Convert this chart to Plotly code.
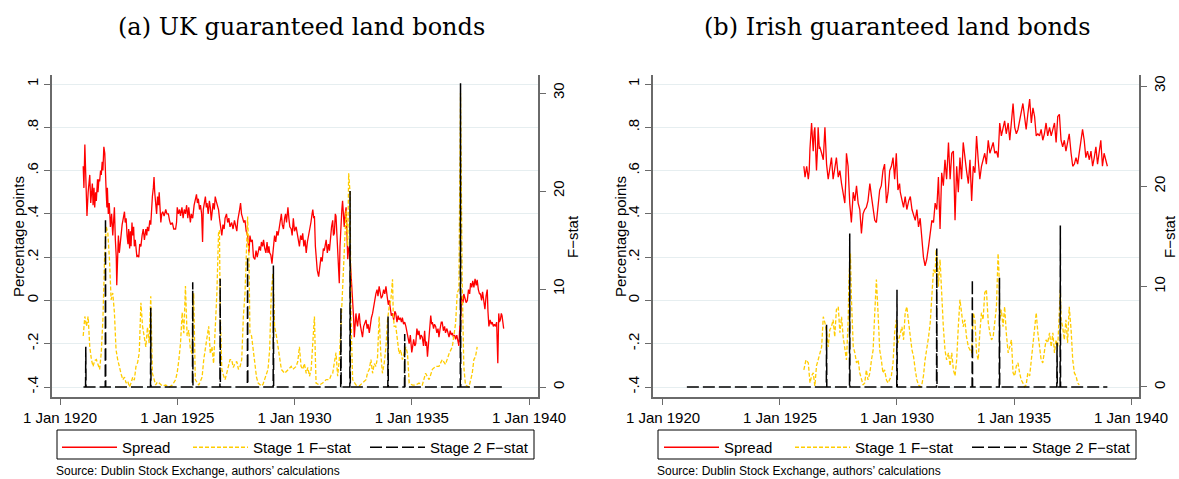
import plotly.graph_objects as go

# ---------------- data: panel (a) UK guaranteed land bonds ----------------
uk_spread_year = [1920.99,1921.02,1921.06,1921.10,1921.15,1921.20,1921.27,1921.31,1921.34,1921.38,1921.41,1921.45,1921.48,1921.52,1921.55,1921.60,1921.62,1921.66,1921.69,1921.73,1921.76,1921.80,1921.83,1921.87,1921.91,1921.94,1921.97,1922.00,1922.02,1922.06,1922.10,1922.15,1922.20,1922.25,1922.29,1922.32,1922.36,1922.40,1922.42,1922.46,1922.49,1922.53,1922.56,1922.60,1922.65,1922.70,1922.75,1922.78,1922.82,1922.86,1922.90,1922.93,1922.97,1923.00,1923.03,1923.07,1923.10,1923.14,1923.17,1923.21,1923.24,1923.28,1923.31,1923.36,1923.40,1923.45,1923.50,1923.55,1923.60,1923.66,1923.70,1923.73,1923.78,1923.83,1923.87,1923.90,1923.94,1923.98,1924.01,1924.04,1924.08,1924.12,1924.16,1924.20,1924.23,1924.27,1924.30,1924.34,1924.38,1924.44,1924.51,1924.56,1924.62,1924.67,1924.72,1924.79,1924.85,1924.93,1924.97,1925.00,1925.05,1925.10,1925.14,1925.20,1925.25,1925.30,1925.35,1925.40,1925.45,1925.49,1925.53,1925.56,1925.60,1925.66,1925.72,1925.77,1925.82,1925.86,1925.90,1925.95,1925.99,1926.04,1926.08,1926.11,1926.15,1926.20,1926.24,1926.27,1926.32,1926.37,1926.41,1926.45,1926.48,1926.53,1926.58,1926.62,1926.66,1926.70,1926.76,1926.80,1926.85,1926.90,1926.95,1927.00,1927.04,1927.10,1927.15,1927.20,1927.25,1927.32,1927.38,1927.44,1927.50,1927.54,1927.58,1927.61,1927.66,1927.70,1927.74,1927.79,1927.84,1927.89,1927.94,1928.00,1928.06,1928.10,1928.15,1928.20,1928.25,1928.31,1928.36,1928.41,1928.45,1928.50,1928.55,1928.59,1928.64,1928.68,1928.73,1928.78,1928.83,1928.87,1928.91,1928.94,1928.99,1929.04,1929.08,1929.12,1929.15,1929.20,1929.25,1929.30,1929.35,1929.40,1929.44,1929.48,1929.53,1929.58,1929.62,1929.66,1929.72,1929.76,1929.80,1929.86,1929.90,1929.95,
1930.00,1930.07,1930.12,1930.17,1930.21,1930.26,1930.31,1930.35,1930.40,1930.45,1930.50,1930.55,1930.60,1930.64,1930.70,1930.75,1930.78,1930.82,1930.85,1930.89,1930.92,1930.97,1931.03,1931.08,1931.13,1931.18,1931.23,1931.27,1931.31,1931.35,1931.40,1931.45,1931.49,1931.54,1931.58,1931.63,1931.66,1931.70,1931.74,1931.77,1931.81,1931.84,1931.88,1931.91,1931.94,1931.98,1932.02,1932.05,1932.09,1932.12,1932.16,1932.20,1932.24,1932.27,1932.31,1932.34,1932.38,1932.41,1932.45,1932.48,1932.52,1932.55,1932.59,1932.62,1932.66,1932.69,1932.73,1932.76,1932.80,1932.85,1932.90,1932.95,1933.00,1933.05,1933.10,1933.14,1933.19,1933.24,1933.28,1933.33,1933.38,1933.42,1933.47,1933.52,1933.56,1933.61,1933.66,1933.70,1933.75,1933.80,1933.85,1933.90,1933.95,1934.00,1934.04,1934.08,1934.13,1934.18,1934.23,1934.28,1934.32,1934.37,1934.42,1934.46,1934.51,1934.56,1934.60,1934.65,1934.70,1934.75,1934.80,1934.85,1934.89,1934.94,1935.00,1935.03,1935.08,1935.13,1935.17,1935.22,1935.27,1935.31,1935.36,1935.40,1935.45,1935.50,1935.55,1935.59,1935.63,1935.67,1935.72,1935.77,1935.81,1935.85,1935.88,1935.93,1935.97,1936.02,1936.07,1936.12,1936.16,1936.21,1936.26,1936.30,1936.35,1936.40,1936.44,1936.50,1936.55,1936.59,1936.64,1936.69,1936.73,1936.78,1936.83,1936.87,1936.92,1936.97,1937.01,1937.05,1937.08,1937.11,1937.15,1937.19,1937.22,1937.27,1937.32,1937.37,1937.42,1937.47,1937.51,1937.56,1937.60,1937.65,1937.70,1937.75,1937.79,1937.84,1937.89,1937.93,1937.98,1938.02,1938.07,1938.12,1938.17,1938.22,1938.25,1938.29,1938.34,1938.39,1938.43,1938.48,1938.52,1938.57,1938.62,1938.67,1938.71,1938.74,1938.78,1938.82,1938.85,1938.89,1938.92]
uk_spread = [.62,.52,.72,.60,.39,.50,.58,.45,.50,.54,.44,.52,.43,.50,.46,.56,.50,.56,.55,.60,.58,.64,.60,.71,.68,.62,.50,.43,.52,.40,.45,.34,.40,.30,.38,.43,.28,.20,.07,.26,.30,.22,.26,.32,.35,.38,.41,.36,.38,.30,.26,.33,.24,.32,.25,.36,.30,.34,.25,.28,.22,.20,.21,.20,.26,.25,.30,.33,.28,.33,.30,.34,.32,.37,.35,.42,.48,.52,.57,.50,.45,.40,.48,.44,.50,.42,.36,.40,.41,.39,.42,.40,.40,.37,.35,.36,.33,.33,.36,.43,.40,.42,.39,.43,.38,.42,.40,.44,.38,.43,.40,.36,.40,.38,.44,.46,.49,.45,.47,.42,.44,.40,.27,.42,.46,.48,.43,.45,.40,.46,.43,.37,.40,.45,.42,.48,.46,.44,.42,.38,.34,.30,.35,.33,.38,.40,.36,.38,.34,.36,.33,.37,.34,.32,.37,.40,.42,.45,.40,.38,.36,.37,.32,.30,.22,.30,.27,.28,.20,.19,.23,.20,.22,.25,.23,.27,.25,.28,.24,.22,.27,.22,.25,.22,.21,.17,.22,.27,.30,.27,.32,.30,.34,.38,.40,.35,.33,.38,.40,.36,.43,.38,.34,.33,.30,.38,
.32,.34,.30,.27,.25,.30,.28,.31,.25,.28,.22,.27,.30,.31,.36,.40,.42,.38,.39,.25,.19,.14,.11,.16,.20,.18,.24,.23,.27,.28,.22,.26,.23,.30,.34,.37,.30,.31,.40,.39,.30,.25,.20,.08,.25,.37,.42,.46,.38,.34,.40,.43,.30,.19,.24,.25,.18,.13,.05,.0,-.08,-.17,-.10,-.06,-.10,-.12,-.08,-.06,-.11,-.14,-.17,-.12,-.10,-.09,-.13,-.11,-.15,-.10,-.08,-.06,-.02,.01,.03,.05,.02,.065,.04,.01,.02,.05,.03,.065,.02,-.02,.0,-.04,-.07,-.06,-.09,-.05,-.06,-.10,-.07,-.09,-.08,-.10,-.08,-.11,-.10,-.12,-.15,-.17,-.20,-.16,-.24,-.22,-.18,-.21,-.20,-.13,-.16,-.14,-.18,-.16,-.17,-.21,-.14,-.21,-.19,-.26,-.18,-.12,-.07,-.11,-.10,-.13,-.11,-.12,-.15,-.13,-.17,-.13,-.10,-.10,-.14,-.12,-.15,-.13,-.16,-.17,-.14,-.16,-.15,-.17,-.16,-.18,-.16,-.20,-.21,-.12,-.12,.00,.02,-.01,.03,.01,-.01,.00,.05,.03,.08,.06,.09,.06,.10,.07,.095,.05,.03,.03,.00,.04,-.01,-.04,.02,.05,-.05,-.12,-.09,-.11,-.10,-.12,-.11,-.12,-.10,-.29,-.06,-.10,-.09,-.06,-.07,-.12,-.13]

uk_stage1_year = [1920.99,1921.06,1921.13,1921.20,1921.27,1921.34,1921.41,1921.48,1921.55,1921.62,1921.69,1921.76,1921.83,1921.90,1921.94,1921.97,1922.04,1922.11,1922.18,1922.25,1922.32,1922.39,1922.46,1922.54,1922.61,1922.68,1922.75,1922.82,1922.89,1922.96,1923.03,1923.10,1923.17,1923.24,1923.31,1923.38,1923.45,1923.52,1923.59,1923.66,1923.73,1923.80,1923.87,1923.92,1923.94,1924.01,1924.08,1924.15,1924.23,1924.37,1924.51,1924.65,1924.79,1924.93,1925.00,1925.07,1925.14,1925.21,1925.28,1925.35,1925.42,1925.49,1925.56,1925.63,1925.70,1925.77,1925.85,1925.92,1925.99,1926.06,1926.13,1926.20,1926.27,1926.34,1926.41,1926.48,1926.55,1926.62,1926.69,1926.76,1926.80,1926.83,1926.90,1926.97,1927.04,1927.11,1927.18,1927.25,1927.32,1927.39,1927.46,1927.54,1927.61,1927.68,1927.75,1927.82,1927.89,1927.96,1928.00,1928.06,1928.10,1928.17,1928.24,1928.31,1928.38,1928.45,1928.59,1928.66,1928.73,1928.80,1928.87,1928.94,1929.01,1929.08,1929.15,1929.23,1929.30,1929.37,1929.44,1929.58,1929.72,1929.86,1929.93,1930.07,1930.14,1930.21,1930.28,1930.35,1930.42,1930.50,1930.57,1930.64,1930.71,1930.78,1930.85,1930.89,1930.92,1931.06,1931.20,1931.35,1931.49,1931.56,1931.63,1931.70,1931.77,1931.84,1931.91,1931.98,1932.05,1932.12,1932.20,1932.27,1932.31,1932.37,1932.41,1932.48,1932.62,1932.76,1932.90,1933.05,1933.12,1933.19,1933.26,1933.33,1933.40,1933.47,1933.54,1933.61,1933.68,1933.75,1933.83,1933.90,1933.97,1934.04,1934.11,1934.18,1934.21,1934.25,1934.32,1934.39,1934.46,1934.53,1934.60,1934.67,1934.75,1934.82,1934.89,1935.03,1935.17,1935.31,1935.45,1935.59,1935.74,1935.88,1936.02,1936.16,1936.30,1936.44,1936.59,1936.73,1936.87,1936.94,1937.01,1937.08,1937.15,1937.22,1937.29,1937.44,1937.58,1937.65,1937.72,1937.79]
uk_stage1 = [5.2,7.2,6.2,7.2,4.1,2.8,2.1,2.7,2.8,2.2,1.8,3.5,6.9,13,15,16.4,15.7,13,8.9,9.6,7.6,3.8,2.8,1.8,1.3,0.75,1.0,0.4,0.6,0.0,0.4,1.0,0.7,2.1,2.5,3.5,8.6,6.2,5.2,4.1,6.1,4.5,9.25,4.0,1.4,0.8,0.2,0.5,0.4,0.1,0.2,0.0,0.2,0.75,1.5,2.8,4.5,7.6,5.5,10.3,5.2,5.8,3.8,3.4,9.6,0.75,0.4,0.2,0.6,1.0,2.8,4.1,5.5,6.2,3.4,4.1,2.4,6.2,9.6,15.7,16.0,7.8,1.8,1.2,0.75,1.4,2.1,2.8,2.8,2.0,2.4,2.6,1.8,2.1,2.8,7.2,9.6,14,17.4,13,5.5,5.2,3.8,1.8,1.0,0.4,0.1,0.3,0.75,1.2,1.8,3.8,9.6,11.6,6.2,5.2,4.1,2.5,1.8,1.4,1.8,2.1,1.8,2.1,2.6,4.1,2.1,1.8,2.4,1.4,2.0,1.1,1.8,4.8,7.2,3.0,0.4,0.2,0.4,0.75,0.75,1.2,1.4,2.5,3.5,1.1,2.8,6.2,9.6,13,18,14.4,21.8,19.8,6.9,0.75,0.2,0.1,0.4,0.75,1.5,1.8,2.8,1.4,2.4,2.1,3.0,7.2,3.4,1.4,2.5,4.1,6.9,8.2,8.9,11.0,7.6,6.2,6.2,4.5,3.4,3.8,2.8,3.4,4.1,3.4,0.4,0.2,0.2,0.4,0.2,1.4,0.75,1.8,2.1,2.1,2.8,2.3,3.4,4.1,6.5,9.6,10,30,11,2.1,0.2,0.0,1.4,2.8,3.1,4.1]

uk_stage2_year = [1921.00,1921.09,1921.10,1921.11,1921.93,1921.94,1921.95,1923.86,1923.87,1923.88,1925.65,1925.66,1925.67,1926.82,1926.83,1926.84,1927.99,1928.00,1928.01,1929.09,1929.10,1929.11,1931.97,1931.98,1931.99,1932.36,1932.37,1932.38,1933.98,1933.99,1934.00,1934.69,1934.70,1934.71,1937.07,1937.08,1937.09,1938.92]
uk_stage2 = [0,0,4.1,0,0,17.2,0,0,8.1,0,0,10.7,0,0,11.05,0,0,13.3,0,0,12.4,0,0,8.1,0,0,20.0,0,0,7.2,0,0,5.4,0,0,31.0,0,0]

# ---------------- data: panel (b) Irish guaranteed land bonds ----------------
ir_spread_year = [1926.02,1926.07,1926.14,1926.21,1926.25,1926.28,1926.35,1926.39,1926.42,1926.46,1926.49,1926.53,1926.56,1926.61,1926.63,1926.68,1926.70,1926.78,1926.85,1926.92,1926.96,1926.99,1927.06,1927.13,1927.20,1927.27,1927.34,1927.41,1927.49,1927.56,1927.63,1927.70,1927.77,1927.81,1927.84,1927.91,1927.98,1928.05,1928.13,1928.20,1928.27,1928.34,1928.41,1928.48,1928.55,1928.62,1928.69,1928.76,1928.84,1928.91,1928.98,1929.05,1929.12,1929.19,1929.26,1929.33,1929.40,1929.47,1929.55,1929.62,1929.69,1929.76,1929.83,1929.90,1929.97,
1930.04,1930.11,1930.14,1930.21,1930.28,1930.35,1930.42,1930.50,1930.57,1930.64,1930.71,1930.78,1930.85,1930.92,1930.99,1931.06,1931.13,1931.20,1931.27,1931.35,1931.42,1931.49,1931.56,1931.63,1931.70,1931.77,1931.84,1931.91,1931.98,1932.05,1932.12,1932.20,1932.27,1932.34,1932.41,1932.48,1932.55,1932.62,1932.69,1932.76,1932.83,1932.90,1932.97,1933.05,1933.12,1933.19,1933.26,1933.33,1933.40,1933.47,1933.54,1933.61,1933.68,1933.75,1933.82,1933.90,1933.97,1934.04,1934.11,1934.18,1934.25,1934.32,1934.39,1934.46,1934.53,1934.60,1934.67,1934.75,1934.82,1934.89,1934.96,1935.03,1935.10,1935.17,1935.24,1935.31,1935.38,1935.45,1935.52,1935.59,1935.67,1935.74,1935.81,1935.88,1935.95,1936.02,1936.09,1936.16,1936.23,1936.30,1936.37,1936.44,1936.52,1936.59,1936.66,1936.73,1936.80,1936.87,1936.94,1937.01,1937.08,1937.15,1937.22,1937.29,1937.36,1937.44,1937.51,1937.58,1937.65,1937.72,1937.79,1937.86,1937.93,1938.00,1938.07,1938.14,1938.22,1938.29,1938.36,1938.43,1938.50,1938.57,1938.64,1938.71,1938.78,1938.85,1938.92,1938.99]
ir_spread = [.62,.57,.62,.56,.60,.70,.82,.72,.69,.78,.80,.68,.60,.72,.80,.70,.71,.68,.65,.80,.72,.63,.56,.62,.66,.56,.62,.66,.57,.60,.54,.50,.45,.55,.68,.62,.45,.36,.50,.46,.53,.45,.42,.31,.40,.42,.43,.46,.54,.48,.42,.37,.36,.43,.51,.53,.60,.63,.45,.50,.60,.62,.66,.56,.68,
.51,.54,.50,.46,.43,.48,.42,.46,.48,.42,.39,.37,.42,.34,.38,.30,.20,.16,.19,.25,.30,.37,.36,.45,.42,.57,.33,.59,.53,.65,.56,.73,.56,.68,.69,.37,.62,.50,.66,.56,.73,.65,.60,.54,.65,.46,.62,.59,.76,.65,.56,.62,.65,.68,.63,.74,.68,.71,.73,.68,.69,.66,.82,.76,.80,.83,.77,.82,.74,.83,.91,.80,.77,.79,.83,.86,.91,.85,.79,.86,.93,.82,.89,.85,.76,.77,.76,.79,.74,.77,.82,.76,.80,.76,.79,.82,.73,.85,.86,.74,.71,.74,.69,.74,.77,.68,.62,.63,.66,.63,.69,.73,.79,.74,.66,.69,.65,.69,.62,.66,.71,.63,.68,.74,.62,.68,.65,.62]

ir_stage1_year = [1926.02,1926.11,1926.21,1926.28,1926.35,1926.42,1926.49,1926.56,1926.63,1926.70,1926.78,1926.85,1926.92,1926.99,1927.06,1927.13,1927.20,1927.27,1927.34,1927.41,1927.49,1927.56,1927.63,1927.70,1927.77,1927.84,1927.91,1927.95,1928.01,1928.05,1928.13,1928.20,1928.27,1928.34,1928.41,1928.48,1928.55,1928.62,1928.69,1928.76,1928.84,1928.91,1928.98,1929.05,1929.12,1929.19,1929.26,1929.33,1929.40,1929.47,1929.55,1929.62,1929.69,1929.76,1929.83,1929.90,1929.97,1930.04,1930.11,1930.14,1930.21,1930.28,1930.35,1930.42,1930.50,1930.57,1930.64,1930.71,1930.78,1930.85,1930.92,1930.99,1931.06,1931.13,1931.20,1931.27,1931.35,1931.42,1931.49,1931.56,1931.63,1931.67,1931.73,1931.77,1931.84,1931.91,1931.98,1932.05,1932.12,1932.20,1932.27,1932.34,1932.41,1932.48,1932.55,1932.62,1932.69,1932.76,1932.83,1932.90,1932.97,1933.05,1933.12,1933.19,1933.26,1933.33,1933.40,1933.47,1933.54,1933.61,1933.68,1933.75,1933.82,1933.90,1933.97,1934.04,1934.11,1934.18,1934.25,1934.32,1934.36,1934.39,1934.46,1934.53,1934.60,1934.67,1934.75,1934.82,1934.89,1934.96,1935.03,1935.10,1935.17,1935.24,1935.31,1935.38,1935.45,1935.52,1935.59,1935.67,1935.74,1935.81,1935.88,1935.95,1936.02,1936.09,1936.16,1936.23,1936.30,1936.37,1936.44,1936.52,1936.59,1936.66,1936.73,1936.80,1936.87,1936.94,1936.98,1937.01,1937.08,1937.15,1937.22,1937.29,1937.36,1937.44,1937.51,1937.58,1937.65,1937.72,1937.79]
ir_stage1 = [1.7,2.7,2.4,0.4,1.1,1.4,0.1,2.1,2.7,3.4,4.0,7.0,6.4,5.4,4.0,5.7,6.0,6.7,5.0,7.7,8.0,5.4,7.0,5.0,4.0,2.7,6.4,11,13.3,9,4.0,3.4,2.4,2.7,1.4,0.7,0.2,0.4,1.7,0.7,1.4,2.7,3.7,7.4,10.7,7.4,3.7,2.7,1.4,1.7,0.7,0.4,0.7,1.1,2.4,5.4,6.7,4.4,5.0,5.4,6.0,4.7,7.4,8.0,6.0,5.0,3.7,3.0,1.7,0.7,0.2,0.0,0.2,1.1,2.7,3.7,5.0,6.4,8.7,11.7,11.3,13.7,12.4,10.0,12.7,8.7,6.0,3.7,2.7,3.4,2.1,3.4,1.7,1.1,2.7,6.0,8.7,7.4,6.0,6.7,5.0,4.0,3.7,3.4,7.4,6.7,3.4,2.7,5.4,7.4,6.7,9.4,9.7,6.4,5.4,4.7,5.0,6.7,8.0,13.3,11.3,6.7,7.7,6.0,8.0,5.4,3.4,4.0,4.7,1.4,1.1,2.1,2.4,1.4,0.7,0.4,0.0,0.2,1.4,1.1,2.7,4.4,6.4,7.4,5.4,4.0,2.7,2.4,3.4,4.7,4.4,5.4,4.0,5.4,3.4,4.7,4.0,7.7,9.7,6.7,6.0,4.7,6.7,4.4,8.0,5.7,2.7,1.4,1.1,0.4,0.2]

ir_stage2_year = [1921.02,1926.98,1926.99,1927.00,1927.97,1927.98,1927.99,1929.99,1930.00,1930.01,1931.69,1931.70,1931.71,1933.21,1933.22,1933.23,1934.37,1934.38,1934.39,1936.83,1936.84,1936.85,1936.97,1936.98,1936.99,1938.99]
ir_stage2 = [0,0,6.2,0,0,15.3,0,0,9.7,0,0,13.8,0,0,10.7,0,0,10.9,0,0,4.4,0,0,16.1,0,0]

# ---------------- labels ----------------
x_tick_vals = [1920, 1925, 1930, 1935, 1940]
x_tick_text = ["1 Jan 1920", "1 Jan 1925", "1 Jan 1930", "1 Jan 1935", "1 Jan 1940"]
y_tick_vals = [-0.4, -0.2, 0, 0.2, 0.4, 0.6, 0.8, 1]
y_tick_text = ["-.4", "-.2", "0", ".2", ".4", ".6", ".8", "1"]
f_tick_vals = [0, 10, 20, 30]
series_names = ["Spread", "Stage 1 F\u2212stat", "Stage 2 F\u2212stat"]
panel_titles = ["(a) UK guaranteed land bonds", "(b) Irish guaranteed land bonds"]
left_title = "Percentage points"
right_title = "F\u2212stat"
source_note = "Source: Dublin Stock Exchange, authors\u2019 calculations"

W, H = 1179, 479
SANS = "Liberation Sans, Arial, sans-serif"
SERIF = "DejaVu Serif, serif"
RED = "#ff0000"
GOLD = "#ffcc00"
AXIS = "#6a6a6a"
GRID = "#e6eef0"

fig = go.Figure()

# legend entry x positions (pixels) for each panel's three entries
legend_x = [[57, 188, 365], [659, 790, 967]]
legend_names = [["legend", "legend2", "legend3"], ["legend4", "legend5", "legend6"]]

panels = [
    (uk_spread_year, uk_spread, uk_stage1_year, uk_stage1, uk_stage2_year, uk_stage2, "x", "y", "y2"),
    (ir_spread_year, ir_spread, ir_stage1_year, ir_stage1, ir_stage2_year, ir_stage2, "x2", "y3", "y4"),
]
styles = [dict(color=RED, width=1.3),
          dict(color=GOLD, width=1.3, dash="4px,2px"),
          dict(color="#000000", width=1.5, dash="12px,4px")]
for p, (sy, sv, s1y, s1v, s2y, s2v, xa, ya, ya2) in enumerate(panels):
    data = [(sy, sv, ya), (s1y, s1v, ya2), (s2y, s2v, ya2)]
    for k, (xx, yy, yax) in enumerate(data):
        fig.add_trace(go.Scatter(x=xx, y=yy, mode="lines", name=series_names[k], xaxis=xa, yaxis=yax,
                                 line=styles[k], legend=legend_names[p][k]))

ytop, ybot = 75, 397
ydom = [1 - ybot / H, 1 - ytop / H]
ymid = 1 - ((ytop + ybot) / 2 + 1) / H

def xaxis(l, r, rng):
    return dict(domain=[l / W, r / W], range=rng, tickvals=x_tick_vals, ticktext=x_tick_text, automargin=False,
                ticks="outside", ticklen=6, tickcolor=AXIS, tickwidth=1.3, showline=True, linecolor=AXIS,
                linewidth=1.5, showgrid=False, zeroline=False, tickfont=dict(family=SANS, size=15, color="black"))

def yleft(anchor):
    return dict(domain=ydom, anchor=anchor, range=[-0.4462, 1.0416], tickvals=y_tick_vals, ticktext=y_tick_text,
                tickangle=-90, ticks="outside", ticklen=6, tickcolor=AXIS, tickwidth=1.3, showline=True,
                linecolor=AXIS, linewidth=1.5, showgrid=True, gridcolor=GRID, gridwidth=1, zeroline=False,
                automargin=False, tickfont=dict(family=SANS, size=15, color="black"))

def yright(anchor, overlay, rng):
    return dict(domain=ydom, anchor=anchor, overlaying=overlay, side="right", range=rng, tickvals=f_tick_vals,
                tickangle=-90, ticks="outside", ticklen=6, tickcolor=AXIS, tickwidth=1.3, showline=True,
                linecolor=AXIS, linewidth=1.5, showgrid=False, zeroline=False, automargin=False,
                tickfont=dict(family=SANS, size=15, color="black"))

legends = {}
for p in range(2):
    for k in range(3):
        legends[legend_names[p][k]] = dict(
            x=legend_x[p][k] / W, y=1 - 431 / H, xanchor="left", yanchor="top", orientation="h",
            borderwidth=0, bgcolor="rgba(0,0,0,0)", font=dict(family=SANS, size=15, color="black"),
            itemwidth=55)

boxes = [(57, 534), (658, 1136)]
shapes = [dict(type="rect", xref="paper", yref="paper", x0=a / W, x1=b / W, y0=1 - 459 / H, y1=1 - 430 / H,
               line=dict(color="black", width=1), fillcolor="white", layer="below") for a, b in boxes]

def note(text, x, y, size, family=SANS, xanchor="center", angle=0):
    return dict(text=text, x=x / W, y=y, xref="paper", yref="paper", showarrow=False, textangle=angle,
                xanchor=xanchor, yanchor="middle", font=dict(family=family, size=size, color="black"))

fig.update_layout(
    template="none",
    width=W, height=H, margin=dict(l=0, r=0, t=0, b=0),
    paper_bgcolor="white", plot_bgcolor="white", showlegend=True,
    xaxis=dict(anchor="y", **xaxis(52, 538, [1919.659, 1940.384])),
    yaxis=yleft("x"),
    yaxis2=yright("x", "y", [-1.02, 31.84]),
    xaxis2=dict(anchor="y3", **xaxis(653, 1139, [1919.573, 1940.342])),
    yaxis3=yleft("x2"),
    yaxis4=yright("x2", "y3", [-1.0, 31.1]),
    shapes=shapes,
    annotations=[
        note(panel_titles[0], 301, 1 - 27 / H, 24, SERIF),
        note(panel_titles[1], 897, 1 - 27 / H, 24, SERIF),
        note(left_title, 18, ymid, 15, angle=-90),
        note(left_title, 620, ymid, 15, angle=-90),
        note(right_title, 572, ymid, 15, angle=-90),
        note(right_title, 1169, ymid, 15, angle=-90),
        note(source_note, 54, 1 - 471 / H, 12, xanchor="left"),
        note(source_note, 655, 1 - 471 / H, 12, xanchor="left"),
    ],
    **legends,
)

fig.write_html("out.html", config={"displayModeBar": False},
               post_script="document.body.style.margin='0';document.body.style.overflow='hidden';")
